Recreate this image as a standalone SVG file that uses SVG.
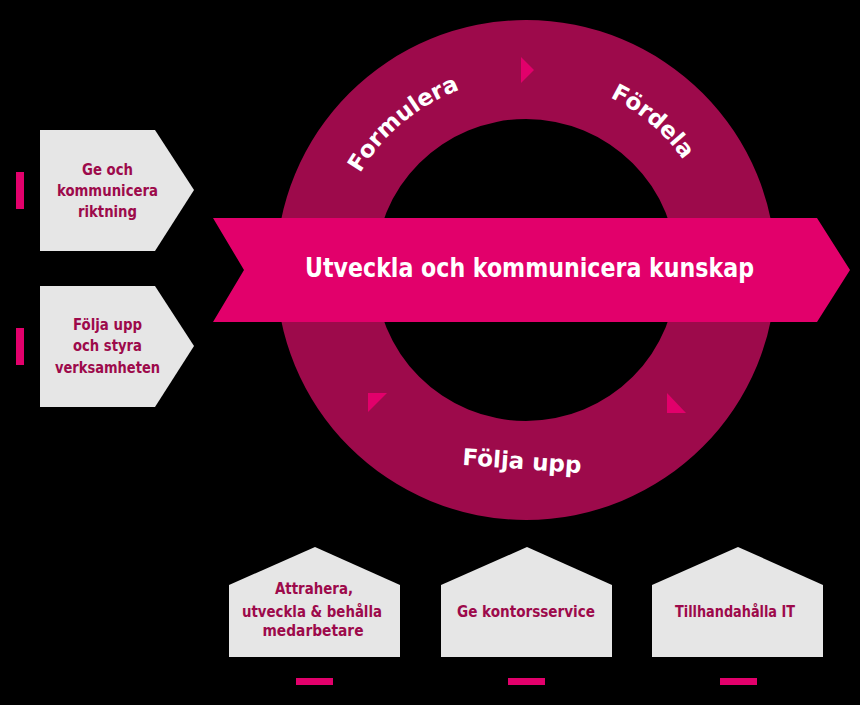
<svg xmlns="http://www.w3.org/2000/svg" width="860" height="705" viewBox="0 0 860 705">
<style>
.bg{fill:#000}
.ring{fill:#9d0a4b;fill-rule:evenodd}
.pink{fill:#e2006b}
.box{fill:#e6e6e6}
.bt{font-family:"Liberation Sans Narrow","DejaVu Sans Condensed","Liberation Sans",sans-serif;font-weight:bold;font-size:16px;fill:#9d0a4b;text-anchor:middle}
.rt{font-family:"DejaVu Sans","Liberation Sans",sans-serif;font-weight:bold;font-size:23px;fill:#fff;text-anchor:middle}
.mt{font-family:"Liberation Sans Narrow","DejaVu Sans Condensed","Liberation Sans",sans-serif;font-weight:bold;font-size:26px;fill:#fff;text-anchor:middle}
</style>
<defs>
<path id="topArc" d="M 334 270 A 192 192 0 0 1 718 270"/>
</defs>
<rect class="bg" x="0" y="0" width="860" height="705"/>

<g id="cycle">
<path class="ring" d="M 276 270 A 250 250 0 1 0 776 270 A 250 250 0 1 0 276 270 Z M 375 270 A 151 151 0 1 0 677 270 A 151 151 0 1 0 375 270 Z"/>
<text class="rt"><textPath href="#topArc" startOffset="27.8%">Formulera</textPath></text>
<text class="rt"><textPath href="#topArc" startOffset="72.5%">Fördela</textPath></text>
<text class="rt" font-size="22" x="522" y="469" transform="rotate(4 522 462)">Följa upp</text>
</g>

<g id="connectors">
<polygon class="pink" points="521,57 534,70 521,83"/>
<polygon class="pink" points="368,393 387,393 368,412"/>
<polygon class="pink" points="667,393 667,413 686,413"/>
</g>

<g id="banner">
<polygon class="pink" points="213,218 817,218 850,270 817,322 213,322 244,270"/>
<text class="mt" x="529.5" y="277" textLength="449" lengthAdjust="spacingAndGlyphs">Utveckla och kommunicera kunskap</text>
</g>

<g id="riktning">
<rect class="pink" x="16" y="172" width="8" height="37"/>
<polygon class="box" points="40,130 155,130 194,190 155,251 40,251"/>
<text class="bt" x="107.5" y="175" textLength="51" lengthAdjust="spacingAndGlyphs">Ge och</text>
<text class="bt" x="107.5" y="196" textLength="101" lengthAdjust="spacingAndGlyphs">kommunicera</text>
<text class="bt" x="107.5" y="217" textLength="59" lengthAdjust="spacingAndGlyphs">riktning</text>
</g>

<g id="folja-upp-styra">
<rect class="pink" x="16" y="328" width="8" height="37"/>
<polygon class="box" points="40,286 155,286 194,346 155,407 40,407"/>
<text class="bt" x="107.5" y="330" textLength="69" lengthAdjust="spacingAndGlyphs">Följa upp</text>
<text class="bt" x="107.5" y="351" textLength="69" lengthAdjust="spacingAndGlyphs">och styra</text>
<text class="bt" x="107.5" y="373" textLength="105" lengthAdjust="spacingAndGlyphs">verksamheten</text>
</g>

<g id="medarbetare">
<polygon class="box" points="229,585 315,547 400,585 400,657 229,657"/>
<text class="bt" x="314" y="594" textLength="78" lengthAdjust="spacingAndGlyphs">Attrahera,</text>
<text class="bt" x="312" y="617" textLength="140" lengthAdjust="spacingAndGlyphs">utveckla &amp; behålla</text>
<text class="bt" x="313" y="636" textLength="101" lengthAdjust="spacingAndGlyphs">medarbetare</text>
<rect class="pink" x="296" y="678" width="37" height="7"/>
</g>

<g id="kontorsservice">
<polygon class="box" points="441,585 527,547 612,585 612,657 441,657"/>
<text class="bt" x="526" y="617" textLength="138" lengthAdjust="spacingAndGlyphs">Ge kontorsservice</text>
<rect class="pink" x="508" y="678" width="37" height="7"/>
</g>

<g id="it">
<polygon class="box" points="652,585 738,547 823,585 823,657 652,657"/>
<text class="bt" x="735" y="617" textLength="120" lengthAdjust="spacingAndGlyphs">Tillhandahålla IT</text>
<rect class="pink" x="720" y="678" width="37" height="7"/>
</g>
</svg>
